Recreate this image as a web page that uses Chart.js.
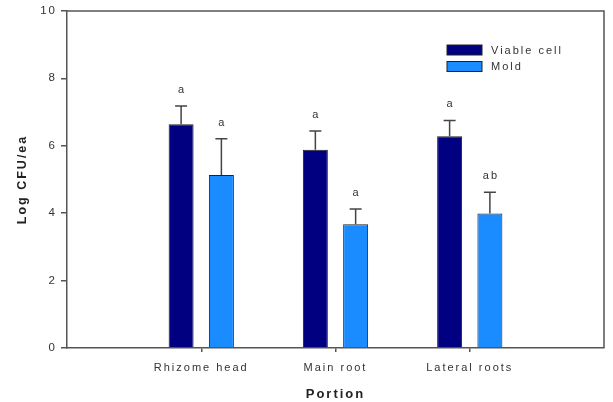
<!DOCTYPE html>
<html>
<head>
<meta charset="utf-8">
<script src="https://cdn.jsdelivr.net/npm/chart.js@4.4.1/dist/chart.umd.min.js"></script>
<style>
  html, body { margin: 0; padding: 0; background: #fff; }
  #wrap { width: 613px; height: 402px; }
</style>
</head>
<body>
<div id="wrap"><canvas id="chart" width="613" height="402"></canvas></div>
<script>
// datos
const categorias = ['', 'Rhizome head', 'Main root', 'Lateral roots', ''];
const viable = [null, 6.64, 5.88, 6.28, null];
const viableErr = [null, 0.54, 0.56, 0.47, null];
const viableLetras = ['', 'a', 'a', 'a', ''];
const moho = [null, 5.13, 3.67, 3.99, null];
const mohoErr = [null, 1.08, 0.45, 0.63, null];
const mohoLetras = ['', 'a', 'a', 'ab', ''];
const yTicks = [0, 2, 4, 6, 8, 10];

const GRIS = '#555';
const TEXTO = '#333';
const FUENTE = '"Liberation Sans", Arial, sans-serif';

// espaciado de letras como en el original
const espaciado = {
  id: 'espaciado',
  beforeDraw(chart) { chart.ctx.letterSpacing = '2px'; }
};

// marco, barras de error, letras y leyenda
const extras = {
  id: 'extras',
  afterDatasetsDraw(chart) {
    const ctx = chart.ctx;
    const area = chart.chartArea;
    const y = chart.scales.y;
    const errores = [viableErr, mohoErr];
    const letras = [viableLetras, mohoLetras];

    ctx.save();
    // marco superior y derecho
    ctx.strokeStyle = GRIS;
    ctx.lineWidth = 1.5;
    ctx.beginPath();
    ctx.moveTo(area.left, area.top);
    ctx.lineTo(area.right, area.top);
    ctx.lineTo(area.right, area.bottom);
    ctx.stroke();

    chart.data.datasets.forEach((ds, di) => {
      const meta = chart.getDatasetMeta(di);
      meta.data.forEach((bar, i) => {
        const v = ds.data[i];
        if (v === null) return;
        const top = y.getPixelForValue(v + errores[di][i]);
        ctx.strokeStyle = '#444';
        ctx.lineWidth = 1.5;
        ctx.beginPath();
        ctx.moveTo(bar.x, bar.y);
        ctx.lineTo(bar.x, top);
        ctx.moveTo(bar.x - 6, top);
        ctx.lineTo(bar.x + 6, top);
        ctx.stroke();

        ctx.fillStyle = TEXTO;
        ctx.font = '11px ' + FUENTE;
        ctx.textAlign = 'center';
        ctx.textBaseline = 'middle';
        ctx.fillText(letras[di][i], bar.x + 1, top - 16);
      });
    });

    // leyenda dentro del area
    chart.data.datasets.forEach((ds, di) => {
      const ly = 45 + di * 16.5;
      ctx.fillStyle = ds.backgroundColor;
      ctx.fillRect(447, ly, 35, 10);
      ctx.strokeStyle = '#222';
      ctx.lineWidth = 1;
      ctx.strokeRect(447, ly, 35, 10);
      ctx.fillStyle = TEXTO;
      ctx.font = '11px ' + FUENTE;
      ctx.textAlign = 'left';
      ctx.textBaseline = 'middle';
      ctx.fillText(ds.label, 491, ly + 5.5);
    });
    ctx.restore();
  }
};

new Chart(document.getElementById('chart'), {
  type: 'bar',
  data: {
    labels: categorias,
    datasets: [
      {
        label: 'Viable cell',
        data: viable,
        backgroundColor: '#000080',
        borderColor: '#222',
        borderWidth: 1,
        categoryPercentage: 0.6,
        barPercentage: 0.62
      },
      {
        label: 'Mold',
        data: moho,
        backgroundColor: '#1a8cff',
        borderColor: '#222',
        borderWidth: 1,
        categoryPercentage: 0.6,
        barPercentage: 0.62
      }
    ]
  },
  options: {
    responsive: false,
    animation: false,
    layout: { padding: { top: 6, right: 8, left: 0, bottom: 0 } },
    plugins: {
      legend: { display: false },
      tooltip: { enabled: false }
    },
    scales: {
      x: {
        type: 'category',
        offset: false,
        border: { color: GRIS, width: 1.5 },
        grid: {
          offset: false,
          drawOnChartArea: false,
          tickLength: 4,
          lineWidth: 1.5,
          color: c => (c.index === 0 || c.index === categorias.length - 1) ? 'rgba(0,0,0,0)' : GRIS
        },
        ticks: {
          color: TEXTO,
          font: { family: FUENTE, size: 11 },
          padding: 9,
          maxRotation: 0,
          autoSkip: false
        },
        title: {
          display: true,
          text: 'Portion',
          color: '#222',
          font: { family: FUENTE, size: 13, weight: 'bold' },
          padding: { top: 0, bottom: 0 }
        },
        afterFit: s => { s.height = 54; }
      },
      y: {
        min: 0,
        max: 10,
        border: { color: GRIS, width: 1.5 },
        grid: {
          drawOnChartArea: false,
          tickLength: 6,
          lineWidth: 1.5,
          color: GRIS
        },
        afterBuildTicks: s => { s.ticks = yTicks.map(v => ({ value: v })); },
        ticks: {
          color: TEXTO,
          font: { family: FUENTE, size: 11.5 },
          padding: 4
        },
        title: {
          display: true,
          text: 'Log CFU/ea',
          color: '#222',
          font: { family: FUENTE, size: 12.5, weight: 'bold' },
          padding: { top: 15, bottom: 0 }
        },
        afterFit: s => { s.width = 67; }
      }
    }
  },
  plugins: [espaciado, extras]
});
</script>
</body>
</html>
